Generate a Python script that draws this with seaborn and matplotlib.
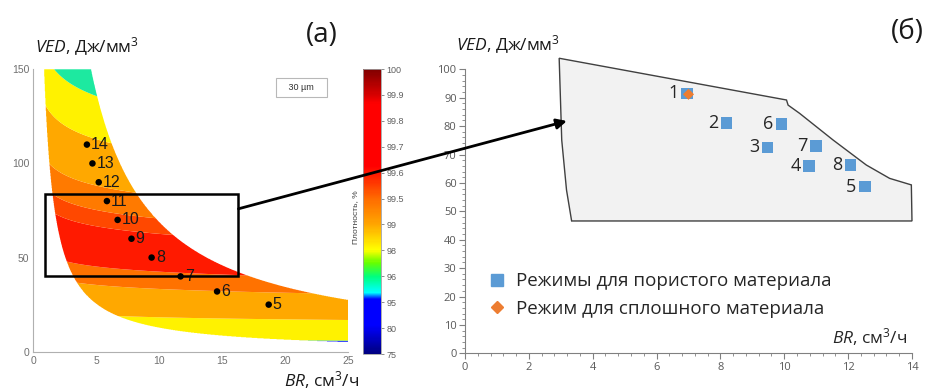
import numpy as np
import matplotlib
matplotlib.use('Agg')
import matplotlib.pyplot as plt
import seaborn as sns
from matplotlib.colors import LinearSegmentedColormap, Normalize
from matplotlib.patches import Polygon, Rectangle, ConnectionPatch
from matplotlib.lines import Line2D
from matplotlib.ticker import MultipleLocator
import matplotlib.cm as cm

sns.set_theme(style='white')
plt.rcParams['font.family'] = ['Open Sans', 'DejaVu Sans']
plt.rcParams['mathtext.fontset'] = 'custom'
plt.rcParams['mathtext.it'] = 'Open Sans:italic'
plt.rcParams['mathtext.rm'] = 'Open Sans'

# ---------------- panel (a) data ----------------
a_labels = ['5', '6', '7', '8', '9', '10', '11', '12', '13', '14']
a_br = [18.7, 14.6, 11.7, 9.4, 7.8, 6.7, 5.85, 5.2, 4.7, 4.26]
a_ved = [25, 32, 40, 50, 60, 70, 80, 90, 100, 110]

# process window limits (VED*BR) and density-band edges of the field VED*BR^exp
window_low = 127
window_high = 690
br_exp = 0.09
band_edges = [0, 7.6, 8.0, 22.5, 41, 52.3, 77, 87, 102, 130.5, 157, 400]
band_colors = ['#1020ff', '#20d080', '#fff200', '#ffa800', '#ff7200', '#ff1a00',
               '#ff4800', '#ff7a00', '#ffa800', '#fff200', '#1de9a0']

cbar_ticks = ['75', '80', '95', '96', '98', '99', '99.5', '99.6', '99.7', '99.8', '99.9', '100']

# zoom window shown in (б)
zoom_br = (0.92, 16.3)
zoom_ved = (40.3, 83.9)

# ---------------- panel (б) data ----------------
b_labels = ['1', '2', '3', '4', '5', '6', '7', '8']
b_br = [6.95, 8.19, 9.47, 10.78, 12.52, 9.91, 11.0, 12.07]
b_ved = [91.5, 81.0, 72.5, 66.0, 58.7, 80.7, 73.0, 66.4]
dense_br = [7.0]
dense_ved = [91.2]

region_br = [2.95, 10.07, 10.12, 10.48, 11.53, 12.57, 13.3, 13.98, 14.0, 3.34, 3.18, 3.03, 2.95]
region_ved = [103.9, 89.2, 87.4, 84.5, 75.1, 66.3, 61.6, 59.3, 46.6, 46.6, 57.5, 75.1, 103.9]

fig = plt.figure(figsize=(9.27, 3.91), dpi=100)
fig.patch.set_facecolor('white')

# ---------------- panel (a) ----------------
ax1 = fig.add_axes([0.0359, 0.1005, 0.3395, 0.7223])
BRg, VEDg = np.meshgrid(np.linspace(0.3, 25, 1000), np.linspace(0, 150, 800))
G = VEDg * BRg ** br_exp
prod = VEDg * BRg
G = np.ma.masked_where((prod < window_low) | (prod > window_high), G)
ax1.contourf(BRg, VEDg, G, levels=band_edges, colors=band_colors, antialiased=True)

sns.scatterplot(x=a_br, y=a_ved, color='black', s=22, edgecolor='none', ax=ax1,
                zorder=5, legend=False)
for lbl, x, y in zip(a_labels, a_br, a_ved):
    ax1.annotate(lbl, (x, y), xytext=(3, 0), textcoords='offset points', ha='left',
                 va='center', fontsize=11.5, family='Liberation Sans', color='#1a1a1a')

ax1.add_patch(Rectangle((zoom_br[0], zoom_ved[0]), zoom_br[1] - zoom_br[0],
                        zoom_ved[1] - zoom_ved[0], fill=False, ec='black', lw=1.8, zorder=6))

ax1.text(21.3, 140.5, '   30 µm   ', ha='center', va='center', fontsize=6.5,
         family='Liberation Sans', color='#303030',
         bbox=dict(boxstyle='square,pad=0.55', fc='white', ec='#b8b8b8', lw=0.8))

ax1.set_xlim(0, 25)
ax1.set_ylim(0, 150)
ax1.set_xticks(range(0, 26, 5))
ax1.set_yticks([0, 50, 100, 150])
ax1.tick_params(direction='in', length=3, width=0.6, color='#909090', labelsize=7.5,
                labelcolor='#707070', pad=3)
for lab in ax1.get_xticklabels() + ax1.get_yticklabels():
    lab.set_family('Liberation Sans')
for s in ['top', 'right']:
    ax1.spines[s].set_visible(False)
for s in ['left', 'bottom']:
    ax1.spines[s].set_color('#b0b0b0')
    ax1.spines[s].set_linewidth(0.8)
ax1.set_facecolor('white')

# colorbar
cax = fig.add_axes([0.3916, 0.0946, 0.0194, 0.7289])
cmap = LinearSegmentedColormap.from_list('dens', [
    (0.0, (0.0, 0.0, 0.5)), (0.1, (0.0, 0.0, 1.0)), (0.19, (0.0, 0.0, 1.0)),
    (0.215, (0.0, 1.0, 1.0)), (0.27, (0.0, 1.0, 0.5)), (0.32, (0.4, 1.0, 0.0)),
    (0.365, (1.0, 1.0, 0.0)), (0.455, (1.0, 0.65, 0.0)), (0.545, (1.0, 0.42, 0.0)),
    (0.6, (1.0, 0.22, 0.0)), (0.66, (1.0, 0.0, 0.0)), (0.88, (1.0, 0.0, 0.0)),
    (0.91, (0.85, 0.0, 0.0)), (1.0, (0.5, 0.0, 0.0))])
sm = cm.ScalarMappable(norm=Normalize(0, 11), cmap=cmap)
cb = fig.colorbar(sm, cax=cax, ticks=range(12))
cb.set_ticklabels(cbar_ticks)
cb.ax.tick_params(labelsize=6.5, colors='#606060', length=2, width=0.5, pad=2)
for lab in cb.ax.get_yticklabels():
    lab.set_family('Liberation Sans')
cb.outline.set_edgecolor('#a0a0a0')
cb.outline.set_linewidth(0.6)
fig.text(356 / 927, 1 - 217 / 391, 'Плотность, %', rotation=90, fontsize=6,
         ha='center', va='center', color='#404040', family='Liberation Sans')

# ---------------- panel (б) ----------------
ax2 = fig.add_axes([0.5016, 0.0964, 0.4822, 0.7263])
ax2.add_patch(Polygon(np.column_stack([region_br, region_ved]), closed=True,
                      fc='#f2f2f2', ec='#404040', lw=1.0, clip_on=False, zorder=1))
sns.scatterplot(x=b_br, y=b_ved, marker='s', s=70, color='#5B9BD5', edgecolor='none',
                ax=ax2, zorder=4, legend=False)
sns.scatterplot(x=dense_br, y=dense_ved, marker='D', s=32, color='#ED7D31',
                edgecolor='none', ax=ax2, zorder=5, legend=False)
for lbl, x, y in zip(b_labels, b_br, b_ved):
    ax2.annotate(lbl, (x, y), xytext=(-6, 0), textcoords='offset points', ha='right',
                 va='center', fontsize=13, color='#262626')

handles = [Line2D([], [], marker='s', ls='', color='#5B9BD5', markersize=8,
                  label='Режимы для пористого материала'),
           Line2D([], [], marker='D', ls='', color='#ED7D31', markersize=6,
                  label='Режим для сплошного материала')]
ax2.legend(handles=handles, loc='upper left', bbox_to_anchor=(0.055, 0.285), frameon=False,
           fontsize=13.5, handlelength=0.8, handletextpad=0.6, labelspacing=0.5,
           borderpad=0, borderaxespad=0, labelcolor='#262626')

ax2.set_xlim(0, 14)
ax2.set_ylim(0, 100)
ax2.set_xticks(range(0, 15, 2))
ax2.set_yticks(range(0, 101, 10))
ax2.xaxis.set_minor_locator(MultipleLocator(0.4))
ax2.yaxis.set_minor_locator(MultipleLocator(2))
ax2.tick_params(which='major', direction='out', length=4, width=0.8, color='#808080',
                labelsize=8, labelcolor='#595959', pad=2, bottom=True, left=True)
ax2.tick_params(which='minor', direction='out', length=2, width=0.6, color='#808080',
                bottom=True, left=True)
for s in ['top', 'right']:
    ax2.spines[s].set_visible(False)
for s in ['left', 'bottom']:
    ax2.spines[s].set_color('#808080')
    ax2.spines[s].set_linewidth(0.8)
ax2.set_facecolor('white')

ax2.text(0.99, 0.057, r'$\mathit{BR}$, см$^3$/ч', transform=ax2.transAxes, ha='right',
         va='center', fontsize=12.5, color='#262626')

# ---------------- titles / labels ----------------
fig.text(0.038, 0.88, r'$\mathit{VED}$, Дж/мм$^3$', fontsize=12.5, ha='left', va='center',
         color='#1a1a1a')
fig.text(0.492, 0.887, r'$\mathit{VED}$, Дж/мм$^3$', fontsize=12.5, ha='left', va='center',
         color='#1a1a1a')
fig.text(322 / 927, 1 - 380 / 391, r'$\mathit{BR}$, см$^3$/ч', fontsize=12.5, ha='center',
         va='center', color='#1a1a1a')
fig.text(322 / 927, 1 - 35 / 391, '(a)', fontsize=20, ha='center', va='center',
         color='#1a1a1a')
fig.text(907 / 927, 1 - 32 / 391, '(б)', fontsize=20, ha='center', va='center',
         color='#1a1a1a')

# arrow from zoom window to panel (б)
arrow = ConnectionPatch(xyA=(zoom_br[1], 75.9), coordsA=ax1.transData,
                        xyB=(3.19, 81.8), coordsB=ax2.transData,
                        arrowstyle='-|>', mutation_scale=15, lw=2, color='black', zorder=10)
fig.add_artist(arrow)

fig.savefig('out.png', dpi=100)
